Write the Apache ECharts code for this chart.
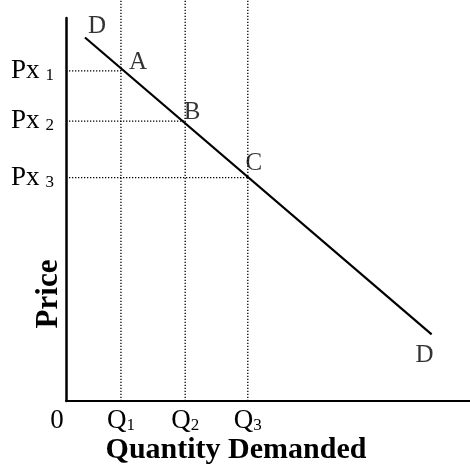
<!DOCTYPE html>
<html>
<head>
<meta charset="utf-8">
<script src="https://cdn.jsdelivr.net/npm/echarts@6/dist/echarts.min.js"></script>
<style>html,body{margin:0;padding:0;background:#fff}#c{width:470px;height:466px}</style>
</head>
<body>
<div id="c"></div>
<script>
// Quantities and prices at points A, B, C
var qValues = [13.6, 29.5, 45.0];
var pValues = [86.2, 73.1, 58.3];
var qLabels = ['Q{s|1}', 'Q{s|2}', 'Q{s|3}'];
var pLabels = ['Px{s|1}', 'Px{s|2}', 'Px{s|3}'];
var pointNames = ['A', 'B', 'C'];
// Demand curve end points
var demandQ = [4.7, 90.5];
var demandP = [94.9, 17.4];
var demandName = 'D';
var yTop = 104.7;

var FONT = '"Liberation Serif","Times New Roman",serif';
var chart = echarts.init(document.getElementById('c'), null, {renderer: 'canvas'});

var series = [];
// vertical dotted lines
qValues.forEach(function (q) {
  series.push({type: 'line', clip: false, silent: true, symbol: 'none',
    lineStyle: {color: '#000', width: 1.3, type: [1.3, 1.7]},
    data: [[q, 0], [q, yTop]]});
});
// horizontal dotted lines
qValues.forEach(function (q, i) {
  series.push({type: 'line', clip: false, silent: true, symbol: 'none',
    lineStyle: {color: '#000', width: 1.3, type: [1.3, 1.7]},
    data: [[0, pValues[i]], [q, pValues[i]]]});
});
// demand line
series.push({type: 'line', clip: false, symbol: 'none',
  lineStyle: {color: '#000', width: 2.2},
  data: [[demandQ[0], demandP[0]], [demandQ[1], demandP[1]]]});
// point labels
var labelOffsets = [[12, -11], [17, -8], [7, -9], [6, -14], [-7, 21]];
var labelData = [];
labelData.push({name: demandName, value: [demandQ[0], demandP[0]]});
qValues.forEach(function (q, i) { labelData.push({name: pointNames[i], value: [q, pValues[i]]}); });
labelData.push({name: demandName, value: [demandQ[1], demandP[1]]});
series.push({type: 'scatter', clip: false, symbolSize: 1,
  itemStyle: {color: 'rgba(0,0,0,0)'},
  label: {show: true, position: 'inside', formatter: '{b}', color: '#000',
    fontFamily: FONT, fontSize: 25},
  labelLayout: function (params) {
    var o = labelOffsets[params.dataIndex];
    return {dx: o[0], dy: o[1]};
  },
  data: labelData});

chart.setOption({
  animation: false,
  backgroundColor: '#fff',
  grid: {left: 66, right: 0, top: 18, bottom: 65, outerBoundsMode: 'none', containLabel: false},
  xAxis: {
    type: 'value', min: 0, max: 100,
    name: 'Quantity Demanded', nameLocation: 'middle', nameGap: 34, nameMoveOverlap: false,
    nameTextStyle: {fontFamily: FONT, fontWeight: 'bold', fontSize: 30, color: '#000', padding: [0, 64, 0, 0]},
    axisLine: {show: true, lineStyle: {color: '#000', width: 2}},
    axisTick: {show: false}, splitLine: {show: false},
    axisLabel: {
      customValues: [0].concat(qValues), margin: 6,
      color: '#000', fontFamily: FONT, fontSize: 27,
      formatter: function (v) {
        if (v === 0) return '{z|0}';
        var i = qValues.indexOf(v);
        return i >= 0 ? qLabels[i] : '';
      },
      rich: {
        s: {fontFamily: FONT, fontSize: 17, color: '#000', verticalAlign: 'bottom'},
        z: {fontFamily: FONT, fontSize: 27, color: '#000', padding: [0, 18, 0, 0]}
      }
    }
  },
  yAxis: {
    type: 'value', min: 0, max: 100,
    name: 'Price', nameLocation: 'middle', nameRotate: 90, nameGap: 2, nameMoveOverlap: false,
    nameTextStyle: {fontFamily: FONT, fontWeight: 'bold', fontSize: 31, color: '#000', padding: [0, 169, 0, 0]},
    axisLine: {show: true, lineStyle: {color: '#000', width: 2.5}},
    axisTick: {show: false}, splitLine: {show: false},
    axisLabel: {
      customValues: pValues, margin: 12,
      color: '#000', fontFamily: FONT, fontSize: 27,
      formatter: function (v) {
        var i = pValues.indexOf(v);
        return i >= 0 ? pLabels[i] : '';
      },
      rich: {
        s: {fontFamily: FONT, fontSize: 17, color: '#000', verticalAlign: 'bottom', padding: [0, 0, 0, 6]}
      }
    }
  },
  series: series
});
</script>
</body>
</html>
